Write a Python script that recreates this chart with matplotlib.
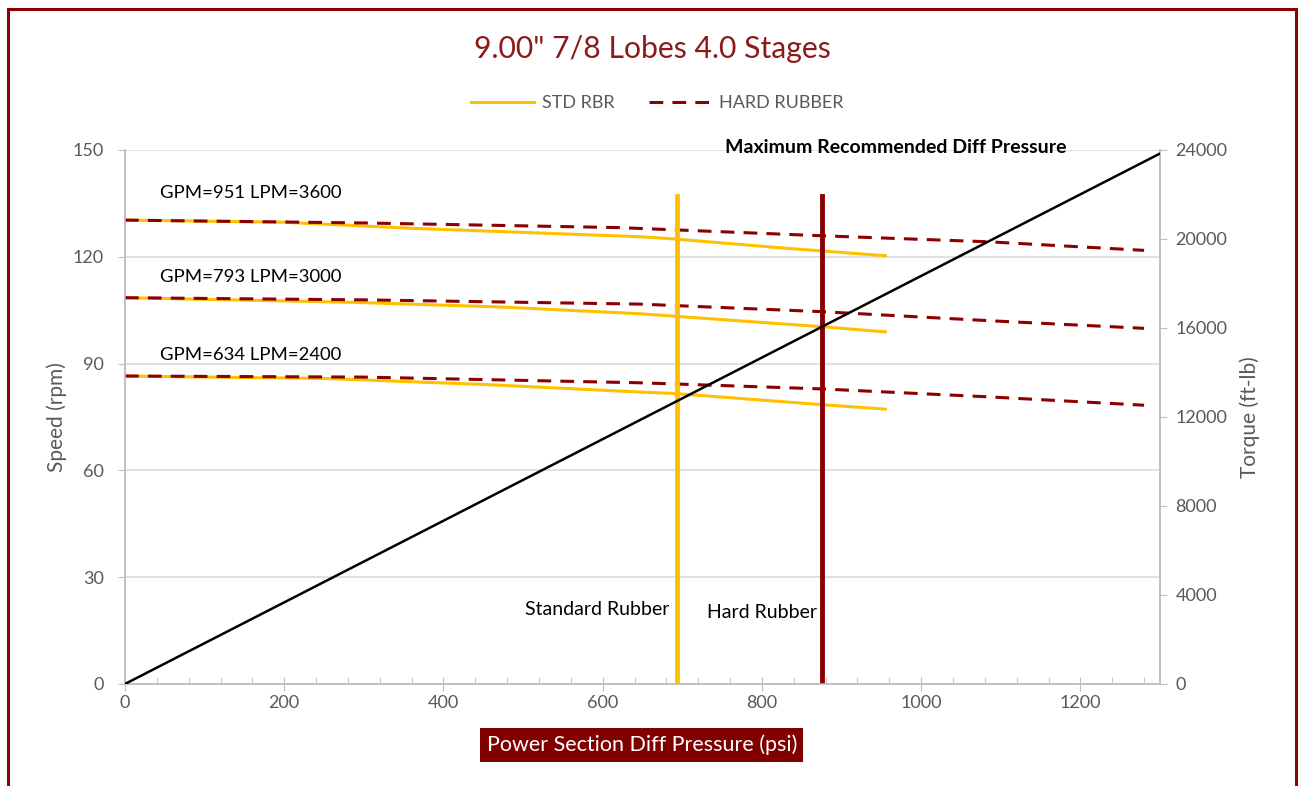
import matplotlib
matplotlib.use("Agg")
import matplotlib.pyplot as plt
from matplotlib.patches import Rectangle
from matplotlib.lines import Line2D
from matplotlib.ticker import MultipleLocator

plt.rcParams['font.family'] = ['Lato', 'DejaVu Sans']

# ---- data ----
# standard rubber speed curves (psi, rpm)
std_psi = [0, 200, 360, 530, 650, 690, 830, 955]
std_3600 = [130.3, 129.7, 128.0, 126.6, 125.6, 125.0, 122.4, 120.3]
std_psi_b = [0, 287, 471, 647, 690, 873, 955]
std_3000 = [108.5, 107.2, 105.9, 104.0, 103.3, 100.4, 98.9]
std_psi_c = [0, 253, 454, 647, 690, 873, 955]
std_2400 = [86.5, 85.8, 84.1, 82.0, 81.6, 78.5, 77.2]

# hard rubber speed curves (psi, rpm)
hard_psi = [0, 300, 620, 875, 1085, 1280]
hard_3600 = [130.3, 129.5, 128.2, 125.9, 124.2, 121.8]
hard_psi_b = [0, 300, 647, 873, 1089, 1280]
hard_3000 = [108.5, 107.9, 106.7, 104.6, 102.0, 99.9]
hard_psi_c = [0, 300, 647, 873, 1089, 1280]
hard_2400 = [86.5, 86.2, 84.6, 82.9, 80.6, 78.3]

# torque line (psi, ft-lb)
torque_psi = [0, 1300]
torque_ftlb = [0, 23840]

# max recommended diff pressure markers
std_max_psi = 693
hard_max_psi = 875
marker_top = 137

flow_labels = ['GPM=951 LPM=3600', 'GPM=793 LPM=3000', 'GPM=634 LPM=2400']
flow_label_y = [137.9, 114.3, 92.4]

YELLOW = '#FFC000'
DRED = '#8B0000'
GREY = '#595959'

fig = plt.figure(figsize=(12.99, 7.86), dpi=100)
ax = fig.add_axes([0.0962, 0.1298, 0.7968, 0.6794])
ax2 = ax.twinx()

lw = 2.2
dash = (0, (4.5, 3))
ax.plot(std_psi, std_3600, color=YELLOW, lw=lw, zorder=3)
ax.plot(std_psi_b, std_3000, color=YELLOW, lw=lw, zorder=3)
ax.plot(std_psi_c, std_2400, color=YELLOW, lw=lw, zorder=3)
ax.plot(hard_psi, hard_3600, color=DRED, lw=lw, ls=dash, zorder=4)
ax.plot(hard_psi_b, hard_3000, color=DRED, lw=lw, ls=dash, zorder=4)
ax.plot(hard_psi_c, hard_2400, color=DRED, lw=lw, ls=dash, zorder=4)

ax.plot([std_max_psi, std_max_psi], [0, marker_top], color=YELLOW, lw=3.5, zorder=5)
ax.plot([hard_max_psi, hard_max_psi], [0, marker_top], color=DRED, lw=3.5, zorder=5)

ax2.plot(torque_psi, torque_ftlb, color='black', lw=1.8, zorder=6)

ax.set_xlim(0, 1300)
ax.set_ylim(0, 150)
ax2.set_ylim(0, 24000)
ax.xaxis.set_major_locator(MultipleLocator(200))
ax.xaxis.set_minor_locator(MultipleLocator(40))
ax.yaxis.set_major_locator(MultipleLocator(30))
ax2.yaxis.set_major_locator(MultipleLocator(4000))

ax.grid(axis='y', color='#D9D9D9', lw=1.1)
ax.set_axisbelow(True)
for a in (ax, ax2):
    a.spines['top'].set_visible(False)
    for s in ('left', 'right', 'bottom'):
        a.spines[s].set_color('#BFBFBF')
        a.spines[s].set_linewidth(1.1)
ax.tick_params(axis='x', which='major', direction='inout', length=10, color='#BFBFBF',
               labelcolor=GREY, labelsize=13, pad=3)
ax.tick_params(axis='x', which='minor', direction='in', length=5, color='#BFBFBF')
ax.tick_params(axis='y', direction='out', length=5, color='#BFBFBF', labelcolor=GREY,
               labelsize=13, pad=10)
ax2.tick_params(axis='y', direction='out', length=5, color='#BFBFBF', labelcolor=GREY,
                labelsize=13, pad=6)

for lbl, yv in zip(flow_labels, flow_label_y):
    ax.text(44, yv, lbl, fontsize=13.3, color='black', va='center', ha='left')

ax.text(968, 150.6, 'Maximum Recommended Diff Pressure', fontsize=14, fontweight='bold',
        ha='center', va='center', clip_on=False, zorder=7)
ax.text(684, 20.8, 'Standard Rubber', fontsize=14, ha='right', va='center')
ax.text(869, 20.2, 'Hard Rubber', fontsize=14, ha='right', va='center')

fig.text(0.502, 0.938, '9.00" 7/8 Lobes 4.0 Stages', fontsize=21.7, color='#8B1A1A',
         ha='center', va='center')

handles = [Line2D([], [], color=YELLOW, lw=2.2),
           Line2D([], [], color=DRED, lw=2.2, ls=dash)]
fig.legend(handles, ['STD RBR', 'HARD RUBBER'], loc='center', bbox_to_anchor=(0.506, 0.869),
           ncol=2, frameon=False, fontsize=13, labelcolor=GREY, handlelength=3.5,
           handletextpad=0.4, columnspacing=1.9)

fig.text(0.494, 0.052, 'Power Section Diff Pressure (psi)', fontsize=15.5, color='white',
         ha='center', va='center',
         bbox=dict(boxstyle='square,pad=0.3', facecolor='#800000', edgecolor='none'))
fig.text(0.044, 0.469, 'Speed (rpm)', fontsize=15, color=GREY, rotation=90,
         ha='center', va='center')
fig.text(0.962, 0.469, 'Torque (ft-lb)', fontsize=15, color=GREY, rotation=90,
         ha='center', va='center')

fig.patches.append(Rectangle((0.0062, -0.1), 0.9915, 1.0885, transform=fig.transFigure,
                             fill=False, edgecolor=DRED, lw=2.2))

fig.savefig('out.png', dpi=100)
